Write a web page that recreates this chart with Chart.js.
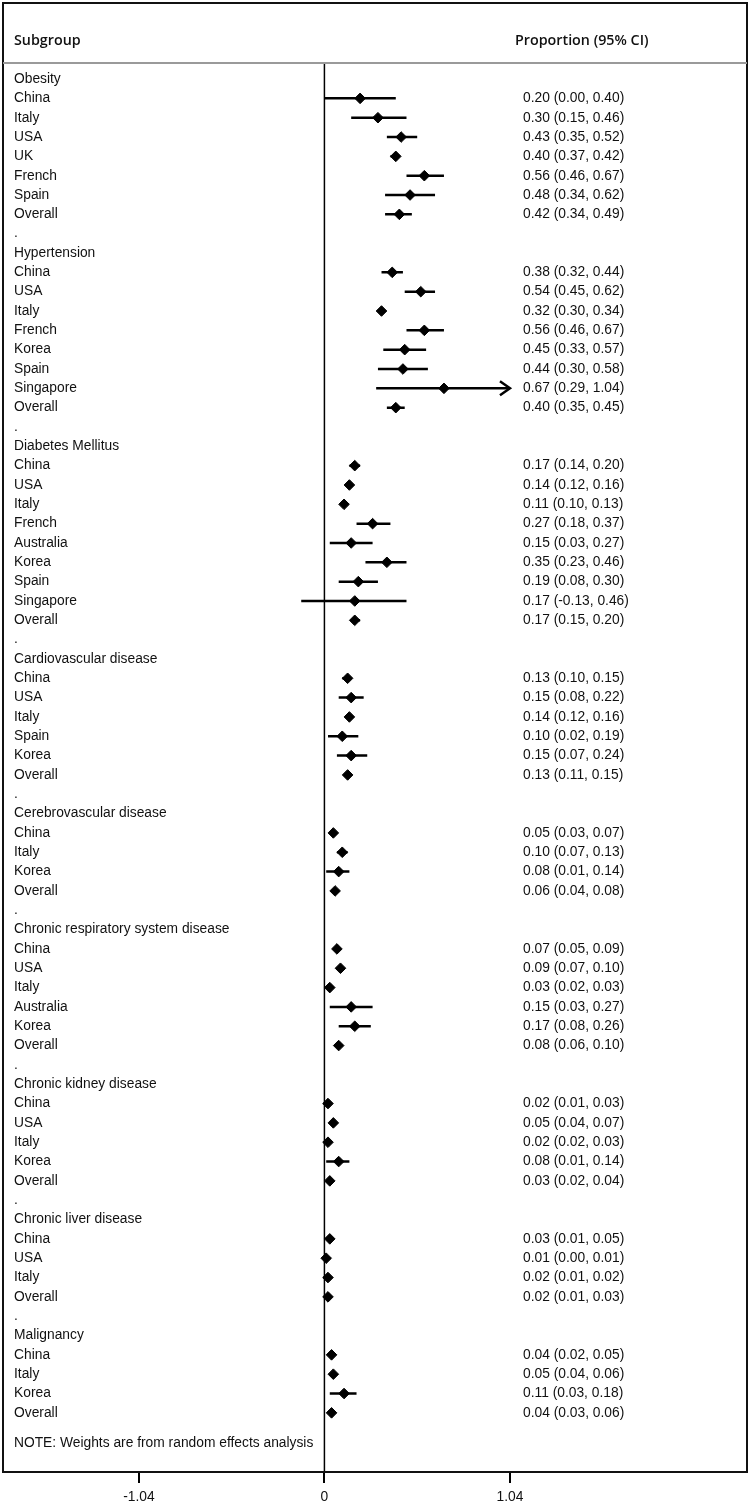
<!DOCTYPE html>
<html>
<head>
<meta charset="utf-8">
<script src="https://cdn.jsdelivr.net/npm/chart.js@4/dist/chart.umd.min.js"></script>
<style>
  html, body { margin: 0; padding: 0; background: #fff; overflow: hidden; }
  #wrap { width: 750px; height: 1507px; }
</style>
</head>
<body>
<div id="wrap"><canvas id="forest"></canvas></div>
<script>
// row labels, top to bottom ('.' = spacer row)
const rowLabels = [
  'Obesity', 'China', 'Italy', 'USA', 'UK', 'French', 'Spain', 'Overall', '.',
  'Hypertension', 'China', 'USA', 'Italy', 'French', 'Korea', 'Spain', 'Singapore', 'Overall', '.',
  'Diabetes Mellitus', 'China', 'USA', 'Italy', 'French', 'Australia', 'Korea', 'Spain', 'Singapore', 'Overall', '.',
  'Cardiovascular disease', 'China', 'USA', 'Italy', 'Spain', 'Korea', 'Overall', '.',
  'Cerebrovascular disease', 'China', 'Italy', 'Korea', 'Overall', '.',
  'Chronic respiratory system disease', 'China', 'USA', 'Italy', 'Australia', 'Korea', 'Overall', '.',
  'Chronic kidney disease', 'China', 'USA', 'Italy', 'Korea', 'Overall', '.',
  'Chronic liver disease', 'China', 'USA', 'Italy', 'Overall', '.',
  'Malignancy', 'China', 'Italy', 'Korea', 'Overall'
];
// proportion estimates (null for header / spacer rows)
const estimates = [
  null, 0.20, 0.30, 0.43, 0.40, 0.56, 0.48, 0.42, null,
  null, 0.38, 0.54, 0.32, 0.56, 0.45, 0.44, 0.67, 0.40, null,
  null, 0.17, 0.14, 0.11, 0.27, 0.15, 0.35, 0.19, 0.17, 0.17, null,
  null, 0.13, 0.15, 0.14, 0.10, 0.15, 0.13, null,
  null, 0.05, 0.10, 0.08, 0.06, null,
  null, 0.07, 0.09, 0.03, 0.15, 0.17, 0.08, null,
  null, 0.02, 0.05, 0.02, 0.08, 0.03, null,
  null, 0.03, 0.01, 0.02, 0.02, null,
  null, 0.04, 0.05, 0.11, 0.04
];
const lowerCI = [
  null, 0.00, 0.15, 0.35, 0.37, 0.46, 0.34, 0.34, null,
  null, 0.32, 0.45, 0.30, 0.46, 0.33, 0.30, 0.29, 0.35, null,
  null, 0.14, 0.12, 0.10, 0.18, 0.03, 0.23, 0.08, -0.13, 0.15, null,
  null, 0.10, 0.08, 0.12, 0.02, 0.07, 0.11, null,
  null, 0.03, 0.07, 0.01, 0.04, null,
  null, 0.05, 0.07, 0.02, 0.03, 0.08, 0.06, null,
  null, 0.01, 0.04, 0.02, 0.01, 0.02, null,
  null, 0.01, 0.00, 0.01, 0.01, null,
  null, 0.02, 0.04, 0.03, 0.03
];
const upperCI = [
  null, 0.40, 0.46, 0.52, 0.42, 0.67, 0.62, 0.49, null,
  null, 0.44, 0.62, 0.34, 0.67, 0.57, 0.58, 1.04, 0.45, null,
  null, 0.20, 0.16, 0.13, 0.37, 0.27, 0.46, 0.30, 0.46, 0.20, null,
  null, 0.15, 0.22, 0.16, 0.19, 0.24, 0.15, null,
  null, 0.07, 0.13, 0.14, 0.08, null,
  null, 0.09, 0.10, 0.03, 0.27, 0.26, 0.10, null,
  null, 0.03, 0.07, 0.03, 0.14, 0.04, null,
  null, 0.05, 0.01, 0.02, 0.03, null,
  null, 0.05, 0.06, 0.18, 0.06
];
const xTicks = [-1.04, 0, 1.04];
const axisLimit = 1.04; // CI beyond this is cut with an arrow
const noteText = 'NOTE: Weights are from random effects analysis';

const BODY_FONT = '13.8px "Liberation Sans", Arial, sans-serif';
const HEAD_FONT = '600 14.3px "Open Sans", "DejaVu Sans", sans-serif';

const points = [];
const ciSegments = [];
estimates.forEach((v, i) => {
  if (v === null) return;
  points.push({ x: v, y: i });
  ciSegments.push({ x: lowerCI[i], y: i });
  ciSegments.push({ x: Math.min(upperCI[i], axisLimit), y: i });
  ciSegments.push({ x: null, y: null });
});

const fmt = v => v.toFixed(2);

const forestText = {
  id: 'forestText',
  afterDraw(chart) {
    const { ctx, chartArea, scales } = chart;
    const x = scales.x, y = scales.y;
    ctx.save();
    // outer frame
    ctx.strokeStyle = '#111';
    ctx.lineWidth = 2;
    ctx.strokeRect(3, 3, 744, chartArea.bottom - 3);
    // header separator
    ctx.strokeStyle = '#9a9a9a';
    ctx.lineWidth = 2;
    ctx.beginPath();
    ctx.moveTo(3, chartArea.top);
    ctx.lineTo(747, chartArea.top);
    ctx.stroke();
    // header text
    ctx.fillStyle = '#111';
    ctx.font = HEAD_FONT;
    ctx.textBaseline = 'middle';
    ctx.textAlign = 'left';
    ctx.fillText('Subgroup', 14, 41);
    ctx.fillText('Proportion (95% CI)', 515, 41);
    // row labels and estimates
    ctx.font = BODY_FONT;
    rowLabels.forEach((lab, i) => {
      const py = y.getPixelForValue(i);
      ctx.fillText(lab, 14, py);
      if (estimates[i] !== null) {
        ctx.fillText(fmt(estimates[i]) + ' (' + fmt(lowerCI[i]) + ', ' + fmt(upperCI[i]) + ')', 523, py);
      }
      // arrow head for truncated CI
      if (upperCI[i] !== null && upperCI[i] >= axisLimit) {
        const ax = x.getPixelForValue(axisLimit);
        ctx.strokeStyle = '#000';
        ctx.lineWidth = 2.5;
        ctx.beginPath();
        ctx.moveTo(ax - 10, py - 7);
        ctx.lineTo(ax, py);
        ctx.lineTo(ax - 10, py + 7);
        ctx.stroke();
      }
    });
    ctx.fillText(noteText, 14, y.getPixelForValue(70.55));
    ctx.restore();
  }
};

new Chart(document.getElementById('forest'), {
  type: 'scatter',
  data: {
    datasets: [{
      label: 'CI',
      type: 'line',
      data: ciSegments,
      borderColor: '#000',
      borderWidth: 2.5,
      pointRadius: 0,
      spanGaps: false,
      order: 2
    }, {
      label: 'Zero',
      type: 'line',
      data: [{ x: 0, y: -0.83 }, { x: 0, y: 72.06 }],
      borderColor: '#000',
      borderWidth: 1.5,
      pointRadius: 0,
      order: 3
    }, {
      label: 'Proportion',
      data: points,
      pointStyle: 'rectRot',
      pointRadius: 5.3,
      backgroundColor: '#000',
      borderColor: '#000',
      order: 1
    }]
  },
  options: {
    responsive: true,
    maintainAspectRatio: false,
    animation: false,
    layout: { padding: { left: 3, right: 3, top: 63, bottom: 0 } },
    plugins: { legend: { display: false }, tooltip: { enabled: false } },
    scales: {
      x: {
        type: 'linear',
        min: -1.783,
        max: 2.35,
        afterBuildTicks: axis => { axis.ticks = xTicks.map(v => ({ value: v })); },
        afterFit: axis => { axis.height = 35; },
        grid: { drawOnChartArea: false, drawTicks: true, tickLength: 11, color: '#000', lineWidth: 2 },
        border: { display: false },
        ticks: {
          color: '#111',
          font: { family: '"Liberation Sans", Arial, sans-serif', size: 13.8 },
          padding: 6,
          maxRotation: 0,
          callback: v => (v === 0 ? '0' : v.toFixed(2))
        }
      },
      y: {
        type: 'linear',
        reverse: true,
        min: -0.83,
        max: 72.06,
        display: false
      }
    }
  },
  plugins: [forestText]
});
</script>
</body>
</html>
